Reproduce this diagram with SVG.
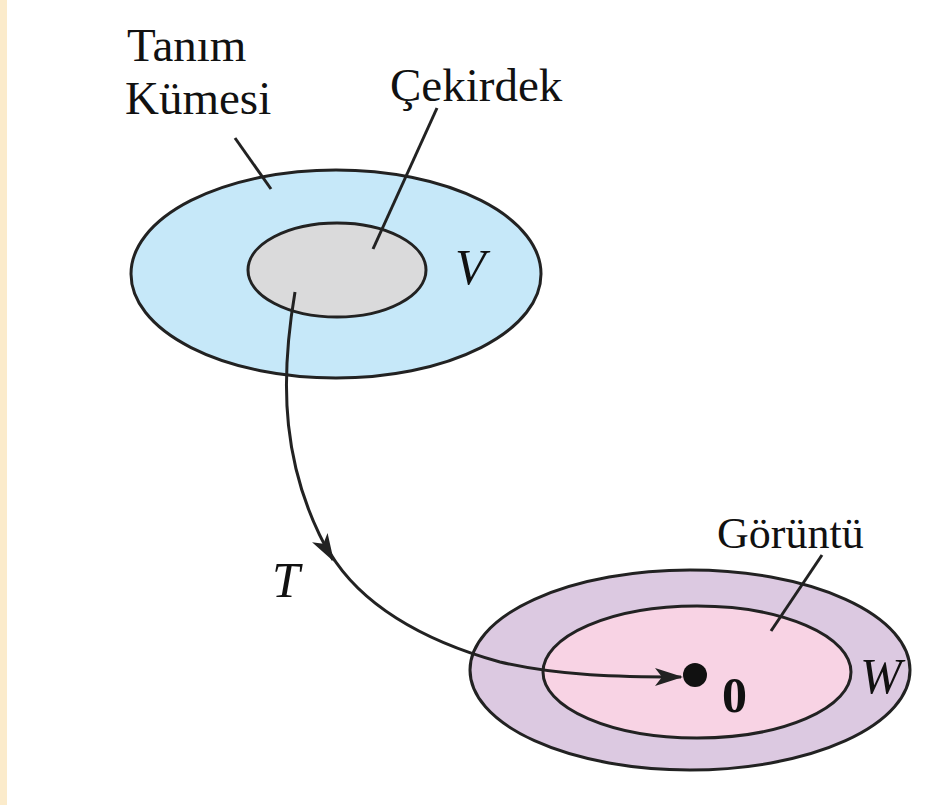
<svg xmlns="http://www.w3.org/2000/svg" width="934" height="805" viewBox="0 0 934 805">
<style>
.lbl{font-family:"Liberation Serif","Times New Roman",serif;font-size:44px;fill:#111}
.big{font-size:47px}
.sym{font-size:50px}
.it{font-style:italic}
.ln{stroke:#222;stroke-width:3;fill:none}
.el{stroke:#222;stroke-width:3}
</style>
<defs>
<marker id="ah" viewBox="0 0 28 18" refX="26" refY="9" markerWidth="28" markerHeight="18" markerUnits="userSpaceOnUse" orient="auto">
<path d="M0,0 L28,9 L0,18 L7,9 Z" fill="#222"/>
</marker>
</defs>
<rect x="0" y="0" width="934" height="805" fill="#fff"/>
<rect x="0" y="0" width="7" height="805" fill="#FBEBCB"/>
<g id="domain">
<ellipse class="el" cx="336" cy="274" rx="205" ry="104" fill="#C6E8F9"/>
<text class="lbl sym it" x="455" y="284">V</text>
</g>
<g id="kernel">
<ellipse class="el" cx="337" cy="270" rx="89" ry="47" fill="#DADADB"/>
</g>
<g id="codomain">
<ellipse class="el" cx="690" cy="670" rx="220" ry="100" fill="#DCC9E1"/>
<text class="lbl sym it" x="860" y="693">W</text>
</g>
<g id="range">
<ellipse class="el" cx="697" cy="672" rx="154" ry="66" fill="#F8D3E4"/>
<circle cx="695" cy="675" r="12" fill="#111"/>
<text class="lbl sym" x="722" y="712" font-weight="bold">0</text>
</g>
<g id="labels">
<text class="lbl big" x="127" y="61">Tanım</text>
<text class="lbl big" x="125" y="114">Kümesi</text>
<text class="lbl big" x="390" y="101">Çekirdek</text>
<text class="lbl" x="717" y="548">Görüntü</text>
<text class="lbl sym it" x="272" y="597">T</text>
</g>
<g id="connectors">
<line class="ln" x1="235" y1="138" x2="271" y2="189"/>
<line class="ln" x1="437" y1="108" x2="373" y2="249"/>
<line class="ln" x1="822" y1="555" x2="771" y2="631"/>
<path class="ln" d="M295,292 C280,380 280,470 333,560" marker-end="url(#ah)"/>
<path class="ln" d="M330,553 C360,603 420,640 500,662 C560,676 620,677 681,677" marker-end="url(#ah)"/>
</g>
</svg>
